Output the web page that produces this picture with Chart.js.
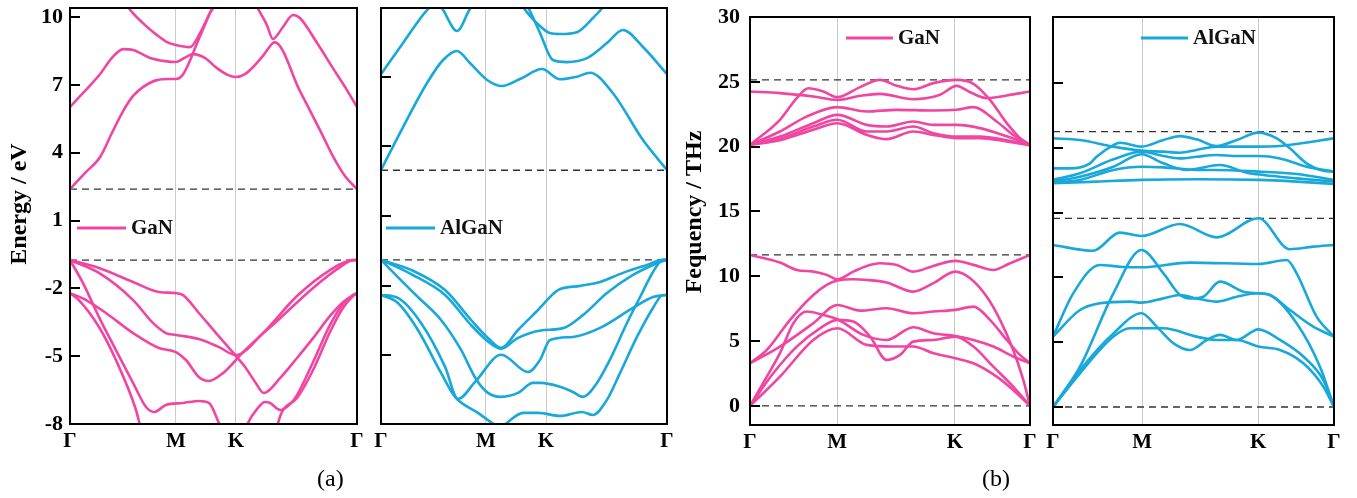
<!DOCTYPE html>
<html>
<head>
<meta charset="utf-8">
<script src="https://cdn.jsdelivr.net/npm/chart.js@4.4.1/dist/chart.umd.min.js"></script>
<style>
html, body { margin: 0; padding: 0; background: #fff; }
body { width: 1357px; height: 498px; position: relative; overflow: hidden; }
.panel { position: absolute; }
.cap { position: absolute; font: 24px "Liberation Serif", "Times New Roman", serif; color: #000; }
</style>
</head>
<body>
<div class="panel" id="p1"><canvas></canvas></div>
<div class="panel" id="p2"><canvas></canvas></div>
<div class="panel" id="p3"><canvas></canvas></div>
<div class="panel" id="p4"><canvas></canvas></div>
<div class="cap" style="left:317px;top:465px">(a)</div>
<div class="cap" style="left:982px;top:465px">(b)</div>
<script>
const PINK = '#f046a2';
const BLUE = '#18a8da';
const SERIF = '"Liberation Serif", "Times New Roman", serif';

// high-symmetry points along the path (fraction of path length)
const kLabels = ['Γ', 'M', 'K', 'Γ'];
const kGaNe = [0, 0.369, 0.578, 1];
const kAlGaNe = [0, 0.367, 0.577, 1];
const kGaNp = [0, 0.311, 0.732, 1];
const kAlGaNp = [0, 0.317, 0.730, 1];

const eTicks = [-8, -5, -2, 1, 4, 7, 10];
const fTicks = [0, 5, 10, 15, 20, 25, 30];

// ---- (a) GaN electronic bands [k, E(eV)] ----
const gaNc1 = [[0,2.39],[.052,3.10],[.105,3.81],[.146,4.87],[.185,5.84],[.220,6.51],[.254,6.90],[.303,7.21],[.348,7.26],[.369,7.26],[.390,7.40],[.408,7.79],[.443,8.85],[.477,9.87],[.509,10.8]];
const gaNc2 = [[0,6.02],[.052,6.73],[.105,7.48],[.146,8.19],[.185,8.58],[.220,8.54],[.279,8.19],[.331,8.05],[.369,8.01],[.404,8.23],[.429,8.36],[.470,8.19],[.512,7.74],[.551,7.43],[.578,7.35],[.610,7.48],[.638,7.79],[.672,8.28],[.707,8.85],[.714,8.88],[.801,6.73],[.871,5.00],[.916,3.85],[.958,2.97],[1,2.39]];
const gaNc3 = [[.185,10.8],[.202,10.44],[.254,9.73],[.303,9.20],[.338,8.89],[.369,8.76],[.418,8.67],[.453,9.29],[.488,10.18],[.505,10.53],[.52,11]];
const gaNc4 = [[.627,11.1],[.652,10.44],[.686,9.65],[.707,9.03],[.742,9.56],[.777,10.09],[.801,9.96],[.861,8.85],[.916,7.74],[.965,6.77],[1,6.02]];
const gaNv1 = [[0,-0.75],[.101,-1.10],[.220,-1.72],[.310,-2.16],[.369,-2.21],[.394,-2.30],[.449,-3.09],[.509,-3.98],[.578,-4.99],[.610,-5.48],[.645,-6.14],[.675,-6.63],[.732,-5.97],[.791,-5.08],[.847,-4.20],[.906,-3.22],[.951,-2.61],[1,-2.21]];
const gaNv2 = [[0,-0.75],[.101,-1.32],[.220,-2.52],[.289,-3.53],[.334,-3.98],[.369,-4.06],[.449,-4.24],[.519,-4.60],[.578,-4.95],[.672,-3.98],[.791,-2.34],[.906,-1.19],[.986,-0.75],[1,-0.75]];
const gaNv3 = [[0,-2.21],[.056,-2.52],[.125,-3.09],[.220,-3.98],[.310,-4.64],[.369,-4.82],[.404,-5.17],[.449,-5.92],[.484,-6.10],[.533,-5.75],[.578,-5.17],[.603,-4.82],[.732,-3.32],[.847,-1.98],[.941,-1.06],[.986,-0.75],[1,-0.75]];
const gaNv4 = [[0,-0.75],[.045,-1.76],[.101,-3.27],[.160,-4.73],[.220,-6.19],[.265,-7.25],[.293,-7.47],[.334,-7.16],[.394,-7.07],[.449,-6.98],[.484,-7.07],[.519,-7.96],[.540,-8.6]];
const gaNv5 = [[0,-2.21],[.031,-2.52],[.101,-3.71],[.160,-5.17],[.230,-7.38],[.244,-8.05],[.26,-8.6]];
const gaNv6 = [[.603,-8.6],[.620,-7.96],[.655,-7.29],[.679,-7.03],[.697,-7.07],[.732,-7.38],[.767,-7.12],[.791,-6.72],[.847,-5.26],[.906,-3.62],[.951,-2.69],[.986,-2.30],[1,-2.21]];
const gaNv7 = [[.718,-8.6],[.725,-7.96],[.791,-6.85],[.847,-5.61],[.906,-3.93],[.951,-2.87],[.986,-2.34],[1,-2.21]];
const gaNEdges = [2.39, -0.75];

// ---- (a) AlGaN electronic bands ----
const alc1 = [[0,2.98],[.077,4.83],[.161,6.73],[.217,7.72],[.266,8.11],[.311,7.59],[.371,6.86],[.423,6.60],[.486,6.90],[.563,7.33],[.626,6.89],[.685,7.0],[.731,7.17],[.811,6.29],[.916,4.27],[1,2.98]];
const alc2 = [[0,7.11],[.077,8.45],[.161,9.87],[.19,10.15],[.21,10.0],[.266,8.97],[.31,9.9],[.35,10.5]];
const alc3 = [[.48,10.4],[.497,10.0],[.545,9.31],[.591,8.88],[.626,8.84],[.685,8.92],[.741,9.53],[.776,10.0],[.80,10.5]];
const alc4 = [[.49,10.4],[.514,9.99],[.556,8.88],[.601,7.72],[.650,7.63],[.720,7.80],[.790,8.45],[.846,9.01],[.916,8.28],[1,7.11]];
const alv1 = [[0,-0.89],[.105,-1.32],[.224,-2.19],[.315,-3.48],[.374,-4.25],[.420,-4.68],[.479,-3.91],[.549,-3.05],[.619,-2.19],[.696,-2.01],[.766,-1.84],[.846,-1.45],[.930,-1.11],[.986,-0.89],[1,-0.89]];
const alv2 = [[0,-0.89],[.105,-1.50],[.224,-2.40],[.315,-3.70],[.374,-4.40],[.420,-4.72],[.479,-4.25],[.559,-3.93],[.637,-3.83],[.706,-3.27],[.790,-2.32],[.881,-1.54],[.951,-1.11],[.986,-0.94],[1,-0.89]];
const alv3 = [[0,-0.89],[.059,-1.63],[.129,-2.49],[.210,-3.48],[.280,-4.77],[.332,-6.02],[.374,-6.62],[.420,-6.79],[.479,-6.62],[.531,-6.19],[.559,-6.19],[.626,-6.36],[.671,-6.58],[.706,-6.79],[.755,-6.19],[.800,-5.20],[.860,-3.61],[.906,-2.49],[.951,-1.41],[.986,-0.89],[1,-0.89]];
const alv4 = [[0,-2.40],[.059,-2.53],[.140,-3.61],[.224,-5.50],[.269,-6.88],[.332,-6.10],[.420,-4.98],[.514,-5.72],[.556,-5.20],[.591,-4.34],[.671,-4.21],[.766,-3.82],[.881,-2.96],[.951,-2.49],[1,-2.40]];
const alv5 = [[0,-2.40],[.059,-2.75],[.129,-3.91],[.210,-5.76],[.259,-6.79],[.339,-7.48],[.388,-7.91],[.420,-8.15],[.441,-7.91],[.497,-7.48],[.549,-7.48],[.626,-7.61],[.703,-7.44],[.741,-7.57],[.790,-6.92],[.836,-5.76],[.895,-4.21],[.951,-2.96],[.986,-2.40],[1,-2.40]];
const alEdges = [2.97, -0.89];

// ---- (b) GaN phonon branches [k, f(THz)] ----
const gpo1 = [[0,20.14],[.107,22.07],[.167,23.74],[.208,24.51],[.262,24.25],[.312,23.82],[.393,24.59],[.464,25.15],[.524,24.7],[.583,24.43],[.655,24.9],[.738,25.15],[.798,24.85],[.857,23.61],[.917,21.81],[.964,20.66],[1,20.14]];
const gpo2 = [[0,24.25],[.107,24.13],[.226,23.87],[.312,23.61],[.393,23.92],[.464,24.07],[.583,23.66],[.679,24.0],[.738,24.69],[.786,24.2],[.845,23.74],[.917,23.95],[1,24.25]];
const gpo3 = [[0,20.14],[.107,21.17],[.202,22.32],[.312,23.05],[.417,22.71],[.524,22.84],[.655,22.79],[.738,22.84],[.798,23.05],[.881,21.94],[.940,20.9],[1,20.14]];
const gpo4 = [[0,20.14],[.107,20.78],[.226,21.81],[.312,22.45],[.417,21.68],[.488,21.55],[.583,21.94],[.655,21.68],[.738,21.68],[.821,21.43],[.917,20.8],[1,20.14]];
const gpo5 = [[0,20.14],[.107,20.6],[.226,21.55],[.312,22.07],[.417,21.17],[.488,21.17],[.583,21.55],[.655,21.04],[.738,20.78],[.821,20.78],[.917,20.5],[1,20.14]];
const gpo6 = [[0,20.14],[.107,20.5],[.226,21.3],[.312,21.81],[.417,20.91],[.488,20.58],[.583,21.17],[.655,20.91],[.738,20.66],[.821,20.66],[.917,20.4],[1,20.1]];
const gpa1 = [[0,11.65],[.107,11.06],[.167,10.49],[.226,10.36],[.274,10.11],[.312,9.77],[.369,10.36],[.417,10.80],[.464,11.01],[.524,10.88],[.583,10.36],[.655,10.80],[.733,11.19],[.798,10.88],[.869,10.49],[.929,11.01],[1,11.65]];
const gpa2 = [[0,3.29],[.060,4.32],[.143,6.64],[.226,8.56],[.274,9.34],[.312,9.67],[.369,9.77],[.417,9.72],[.488,9.52],[.583,8.82],[.655,9.47],[.733,10.36],[.786,9.85],[.845,8.44],[.893,6.64],[.940,4.32],[.976,2.01],[1,0]];
const gpa3 = [[0,3.29],[.107,4.58],[.226,6.38],[.312,7.79],[.393,7.35],[.488,7.54],[.583,7.15],[.655,7.28],[.733,7.41],[.798,7.66],[.857,6.64],[.917,5.09],[.964,3.94],[1,3.29]];
const gpa4 = [[0,0],[.060,2.26],[.107,4.07],[.155,6.38],[.202,7.28],[.262,7.02],[.312,6.69],[.405,5.48],[.488,5.09],[.583,6.07],[.655,5.61],[.733,5.40],[.798,5.09],[.869,4.58],[.940,3.81],[1,3.29]];
const gpa5 = [[0,0],[.083,2.52],[.167,4.58],[.250,5.99],[.312,6.64],[.369,6.51],[.429,5.35],[.488,3.55],[.536,3.94],[.583,4.96],[.655,5.09],[.733,5.35],[.798,4.58],[.869,3.03],[.940,1.49],[1,0]];
const gpa6 = [[0,0],[.107,2.26],[.226,5.09],[.312,5.99],[.417,4.71],[.512,4.58],[.583,4.58],[.655,4.07],[.733,3.68],[.798,3.29],[.881,2.26],[.940,1.23],[1,0]];
const gpLevels = [25.15, 11.65, 0];

// ---- (b) AlGaN phonon branches ----
const apo1 = [[0,20.73],[.096,20.6],[.215,20.09],[.315,19.78],[.393,19.70],[.452,19.62],[.511,19.83],[.582,20.09],[.654,20.09],[.731,20.09],[.808,20.14],[.867,20.29],[1,20.73]];
const apo2 = [[0,18.41],[.060,18.41],[.132,18.8],[.155,19.31],[.215,20.21],[.238,20.39],[.315,20.09],[.393,20.6],[.452,20.9],[.511,20.65],[.582,20.14],[.654,20.6],[.731,21.17],[.796,20.73],[.843,19.96],[.902,18.8],[.962,18.23],[1,18.16]];
const apo3 = [[0,17.52],[.096,18.03],[.215,19.11],[.315,19.70],[.393,19.36],[.452,19.18],[.511,19.31],[.582,19.44],[.654,19.36],[.731,19.36],[.808,19.18],[.902,18.54],[1,18.16]];
const apo4 = [[0,17.39],[.096,17.77],[.215,18.54],[.315,19.5],[.393,18.8],[.476,18.29],[.594,18.67],[.689,18.08],[.749,17.9],[.867,17.64],[1,17.39]];
const apo5 = [[0,17.31],[.096,17.52],[.215,18.29],[.315,18.54],[.393,18.49],[.511,18.29],[.582,18.29],[.731,18.16],[.867,17.98],[1,17.52]];
const apo6 = [[0,17.26],[.155,17.39],[.315,17.52],[.511,17.57],[.731,17.52],[.867,17.39],[1,17.21]];
const apa1 = [[0,12.5],[.142,12.05],[.238,13.45],[.315,13.19],[.452,14.12],[.582,13.09],[.731,14.56],[.843,12.17],[.926,12.37],[1,12.5]];
const apa2 = [[0,5.43],[.072,8.77],[.167,10.96],[.238,10.82],[.315,10.78],[.488,11.14],[.731,11.03],[.832,11.34],[.867,10.31],[.938,6.97],[1,5.43]];
const apa3 = [[0,0],[.096,3.11],[.215,8.77],[.315,12.11],[.393,10.31],[.452,8.64],[.488,8.38],[.535,8.51],[.594,9.67],[.677,8.9],[.731,8.77],[.772,8.64],[.867,6.46],[.950,3.11],[1,0]];
const apa4 = [[0,5.43],[.096,7.48],[.167,8.00],[.274,8.13],[.315,8.05],[.393,8.38],[.452,8.64],[.511,8.38],[.582,8.13],[.654,8.51],[.731,8.77],[.772,8.64],[.843,7.48],[.926,6.2],[1,5.43]];
const apa5 = [[0,0],[.096,2.85],[.215,5.68],[.315,7.23],[.369,6.2],[.429,4.91],[.488,4.40],[.547,5.17],[.594,5.56],[.654,5.17],[.731,5.99],[.808,5.17],[.891,3.89],[.962,2.08],[1,0]];
const apa6 = [[0,0],[.096,2.6],[.215,5.43],[.274,6.07],[.393,6.07],[.511,5.43],[.582,5.17],[.654,5.17],[.731,4.66],[.808,4.40],[.891,3.37],[.962,1.57],[1,0]];
const apLevels = [21.24, 14.56, 0];

Chart.defaults.font.family = SERIF;

// frame, inner ticks and the little legend
const framePlugin = {
  id: 'frame',
  afterDatasetsDraw(chart, args, opts) {
    const { ctx, chartArea: a } = chart;
    const y = chart.scales.y;
    ctx.save();
    ctx.strokeStyle = '#000';
    ctx.lineWidth = 2;
    y.ticks.forEach(t => {
      const py = Math.round(y.getPixelForValue(t.value));
      ctx.beginPath();
      ctx.moveTo(a.left, py);
      ctx.lineTo(a.left + 10, py);
      ctx.stroke();
    });
    ctx.strokeRect(a.left, a.top, a.right - a.left, a.bottom - a.top);
    const lg = opts.legend;
    if (lg) {
      ctx.strokeStyle = opts.color;
      ctx.lineWidth = 3;
      ctx.beginPath();
      ctx.moveTo(lg.x1 - opts.ox, lg.y - opts.oy);
      ctx.lineTo(lg.x2 - opts.ox, lg.y - opts.oy);
      ctx.stroke();
      ctx.fillStyle = '#111';
      ctx.font = 'bold 21px ' + SERIF;
      ctx.textBaseline = 'middle';
      ctx.textAlign = 'left';
      ctx.fillText(lg.text, lg.tx - opts.ox, lg.y - opts.oy + 1);
    }
    ctx.restore();
  }
};

function panel(id, p) {
  const Yw = p.axisWidth, Xh = 50, padR = 12, lift = 20;
  const W = Yw + (p.right - p.left) + padR;
  const H = lift + p.bottom + Xh;
  const ox = p.left - Yw, oy = -lift;
  const box = document.getElementById(id);
  box.style.left = ox + 'px';
  box.style.top = oy + 'px';
  const cv = box.querySelector('canvas');
  cv.width = W; cv.height = H;
  cv.style.width = W + 'px'; cv.style.height = H + 'px';

  const datasets = p.bands.map(b => ({
    data: b.map(([x, y]) => ({ x, y })),
    borderColor: p.color,
    borderWidth: 2.6,
    pointRadius: 0,
    cubicInterpolationMode: 'monotone',
    fill: false,
    clip: 0
  }));
  p.levels.forEach(v => datasets.push({
    data: [{ x: 0, y: v }, { x: 1, y: v }],
    borderColor: '#333',
    borderWidth: 1.3,
    borderDash: [7, 5],
    pointRadius: 0,
    clip: 0
  }));

  const xFont = { family: SERIF, size: 21, weight: 'bold' };
  const yFont = { family: SERIF, size: 22, weight: 'bold' };
  new Chart(cv, {
    type: 'line',
    data: { datasets },
    options: {
      responsive: false,
      animation: false,
      devicePixelRatio: 1,
      layout: { padding: { left: 0, right: padR, top: lift + p.top, bottom: 0 } },
      plugins: {
        legend: { display: false },
        tooltip: { enabled: false },
        frame: { legend: p.legend, color: p.color, ox, oy }
      },
      scales: {
        x: {
          type: 'linear', min: 0, max: 1,
          afterBuildTicks: s => { s.ticks = p.kTicks.map(v => ({ value: v })); },
          afterFit: s => { s.height = Xh; },
          ticks: { callback: (v, i) => kLabels[i], font: xFont, color: '#000', padding: 5, autoSkip: false, maxRotation: 0 },
          grid: { color: c => (c.index === 1 || c.index === 2) ? '#cccccc' : 'rgba(0,0,0,0)', drawTicks: false, lineWidth: 1 },
          border: { display: false }
        },
        y: {
          type: 'linear', min: p.yMin, max: p.yMax,
          afterBuildTicks: s => { s.ticks = p.yTicks.map(v => ({ value: v })); },
          afterFit: s => { s.width = Yw; },
          ticks: { callback: v => p.showLabels ? String(v) : '', font: yFont, color: '#000', padding: p.labelPad || 6 },
          grid: { display: false, drawTicks: false },
          border: { display: false },
          title: p.title
            ? { display: true, text: p.title, color: '#000', font: { family: SERIF, size: 24, weight: 'bold' }, padding: { top: p.titlePad, bottom: 0 } }
            : { display: false }
        }
      }
    },
    plugins: [framePlugin]
  });
}

panel('p1', {
  left: 70, right: 357, top: 8, bottom: 424, axisWidth: 70,
  yMin: -8, yMax: 10.40, yTicks: eTicks, showLabels: true, labelPad: 7,
  title: '    Energy / eV', titlePad: 5,
  kTicks: kGaNe, color: PINK,
  bands: [gaNc1, gaNc2, gaNc3, gaNc4, gaNv1, gaNv2, gaNv3, gaNv4, gaNv5, gaNv6, gaNv7],
  levels: gaNEdges,
  legend: { x1: 77, x2: 126, y: 228, tx: 131, text: 'GaN' }
});

panel('p2', {
  left: 381, right: 667, top: 8, bottom: 424, axisWidth: 25,
  yMin: -7.96, yMax: 9.96, yTicks: [-5, -2, 1, 4, 7], showLabels: false,
  kTicks: kAlGaNe, color: BLUE,
  bands: [alc1, alc2, alc3, alc4, alv1, alv2, alv3, alv4, alv5],
  levels: alEdges,
  legend: { x1: 386, x2: 435, y: 228, tx: 440, text: 'AlGaN' }
});

panel('p3', {
  left: 750, right: 1030, top: 17, bottom: 425, axisWidth: 70,
  yMin: -1.47, yMax: 30, yTicks: fTicks, showLabels: true, labelPad: 10,
  title: '   Fequency / THz', titlePad: 0,
  kTicks: kGaNp, color: PINK,
  bands: [gpo1, gpo2, gpo3, gpo4, gpo5, gpo6, gpa1, gpa2, gpa3, gpa4, gpa5, gpa6],
  levels: gpLevels,
  legend: { x1: 846, x2: 893, y: 38, tx: 898, text: 'GaN' }
});

panel('p4', {
  left: 1053, right: 1334, top: 17, bottom: 425, axisWidth: 25,
  yMin: -1.39, yMax: 30.09, yTicks: [0, 5, 10, 15, 20, 25], showLabels: false,
  kTicks: kAlGaNp, color: BLUE,
  bands: [apo1, apo2, apo3, apo4, apo5, apo6, apa1, apa2, apa3, apa4, apa5, apa6],
  levels: apLevels,
  legend: { x1: 1141, x2: 1188, y: 38, tx: 1193, text: 'AlGaN' }
});
</script>
</body>
</html>
